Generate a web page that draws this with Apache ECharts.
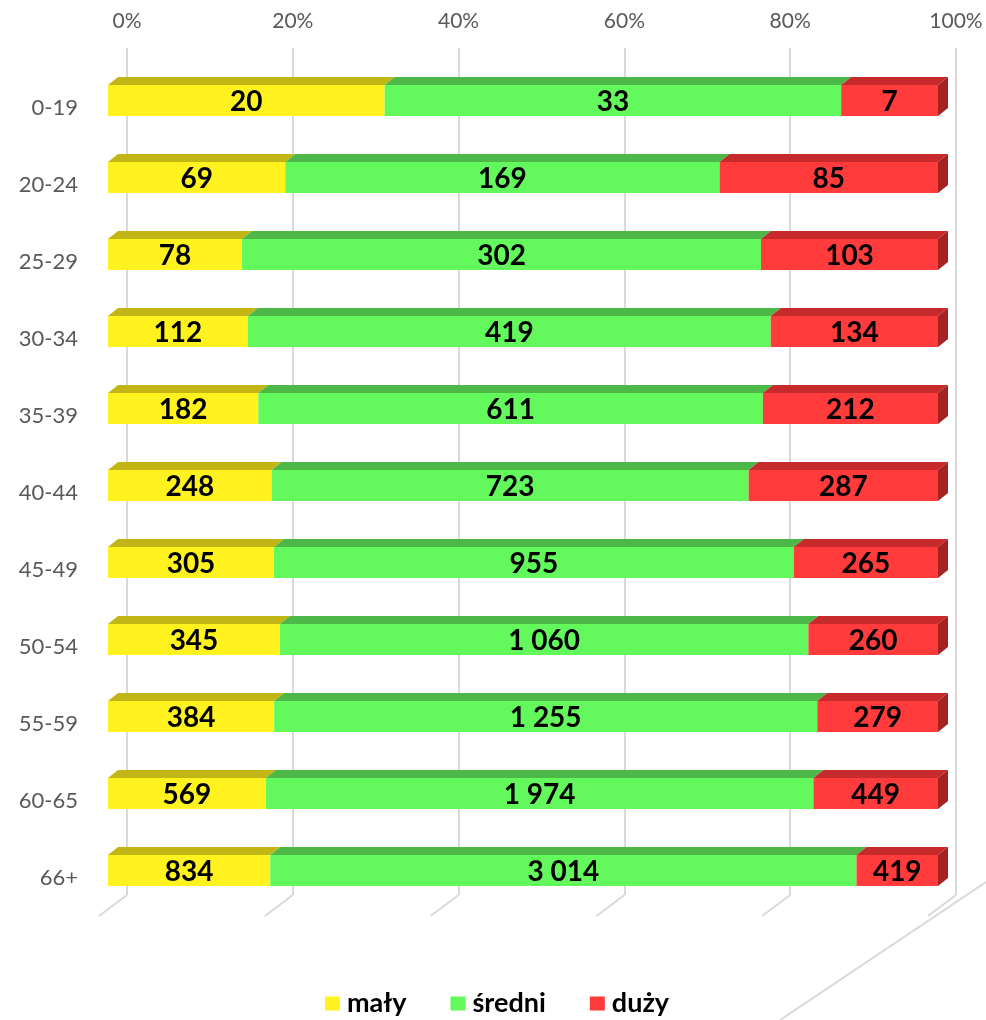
<!DOCTYPE html>
<html>
<head>
<meta charset="utf-8">
<script src="https://cdn.jsdelivr.net/npm/echarts@6/dist/echarts.min.js"></script>
<style>
html,body{margin:0;padding:0;background:#fff;}
#chart{width:986px;height:1020px;}
</style>
</head>
<body>
<div id="chart"></div>
<script>
const categories = ['0-19','20-24','25-29','30-34','35-39','40-44','45-49','50-54','55-59','60-65','66+'];
const maly   = [20, 69, 78, 112, 182, 248, 305, 345, 384, 569, 834];
const sredni = [33, 169, 302, 419, 611, 723, 955, 1060, 1255, 1974, 3014];
const duzy   = [7, 85, 103, 134, 212, 287, 265, 260, 279, 449, 419];
const tickValues = [0, 20, 40, 60, 80, 100];
const seriesNames = ['mały', 'średni', 'duży'];

const FRONT = ['#FFF21F', '#63F95D', '#FF3B3B'];
const TOP   = ['#C2B616', '#4DB848', '#C72A2A'];
const SIDE  = '#A52222';
const DX = 10, DY = 8, BAR_H = 31;

function fmt(v) {
  return String(v).replace(/\B(?=(\d{3})+(?!\d))/g, ' ');
}

const raws = [maly, sredni, duzy];
const totals = categories.map((c, i) => maly[i] + sredni[i] + duzy[i]);
const stacked = raws.map(() => []);
categories.forEach((c, i) => {
  let acc = 0;
  raws.forEach((arr, k) => {
    const s = acc / totals[i] * 100;
    acc += arr[i];
    const e = acc / totals[i] * 100;
    stacked[k].push([i, s, e, arr[i]]);
  });
});

function makeRender(k) {
  return function (params, api) {
    const cat = api.value(0), s = api.value(1), e = api.value(2), raw = api.value(3);
    const p0 = api.coord([s, cat]);
    const p1 = api.coord([e, cat]);
    const x0 = p0[0], x1 = p1[0];
    const yTop = p0[1] - BAR_H / 2;
    const yBot = yTop + BAR_H;
    const children = [
      { type: 'polygon', shape: { points: [[x0, yTop], [x1, yTop], [x1 + DX, yTop - DY], [x0 + DX, yTop - DY]] }, style: { fill: TOP[k] } },
      { type: 'rect', shape: { x: x0, y: yTop, width: x1 - x0, height: BAR_H }, style: { fill: FRONT[k] } }
    ];
    if (k === 2) {
      children.push({ type: 'polygon', shape: { points: [[x1, yTop], [x1 + DX, yTop - DY], [x1 + DX, yBot - DY], [x1, yBot]] }, style: { fill: SIDE } });
    }
    children.push({
      type: 'text', x: (x0 + x1) / 2, y: p0[1] + 1,
      style: { text: fmt(raw), font: 'bold 28px Lato', fill: '#000', align: 'center', verticalAlign: 'middle' }
    });
    return { type: 'group', children: children };
  };
}

const chart = echarts.init(document.getElementById('chart'), null, { renderer: 'canvas' });

const series = [
  {
    type: 'custom', name: '_floor', xAxisIndex: 1, yAxisIndex: 1, silent: true, z: 1,
    data: tickValues.map(v => [v, 0]),
    renderItem: function (params, api) {
      const p = api.coord([api.value(0), 0]);
      return { type: 'line', shape: { x1: p[0], y1: p[1], x2: p[0] - 28, y2: p[1] + 21 }, style: { stroke: '#D9D9D9', lineWidth: 2 } };
    },
    clip: false
  }
];
raws.forEach((arr, k) => {
  series.push({
    type: 'custom', name: seriesNames[k], xAxisIndex: 0, yAxisIndex: 0, z: 5,
    itemStyle: { color: FRONT[k] },
    data: stacked[k],
    encode: { x: [1, 2], y: 0 },
    renderItem: makeRender(k),
    clip: false
  });
});

chart.setOption({
  animation: false,
  backgroundColor: '#fff',
  grid: [
    { left: 108, right: 48, top: 62, bottom: 111 },
    { left: 127, right: 30, top: 48, bottom: 125 }
  ],
  xAxis: [
    { type: 'value', gridIndex: 0, min: 0, max: 100, show: false },
    {
      type: 'value', gridIndex: 1, min: 0, max: 100, interval: 20, position: 'top',
      axisLine: { show: false }, axisTick: { show: false },
      axisLabel: { formatter: '{value}%', color: '#595959', fontSize: 21, fontFamily: 'Lato', margin: 16 },
      splitLine: { show: true, lineStyle: { color: '#D9D9D9', width: 2 } }
    }
  ],
  yAxis: [
    {
      type: 'category', gridIndex: 0, data: categories, inverse: true,
      axisLine: { show: false }, axisTick: { show: false }, splitLine: { show: false },
      axisLabel: { color: '#595959', fontSize: 22, fontFamily: 'Lato', margin: 30, verticalAlign: 'top', lineHeight: 14 }
    },
    { type: 'value', gridIndex: 1, min: 0, max: 1, show: false }
  ],
  legend: {
    data: seriesNames,
    left: 320, bottom: -2,
    icon: 'rect', itemWidth: 15, itemHeight: 14, itemGap: 44,
    textStyle: { fontFamily: 'Lato', fontWeight: 'bold', fontSize: 27, color: '#000', padding: [0, 0, 0, 2] }
  },
  graphic: [
    { type: 'line', silent: true, shape: { x1: 986, y1: 882, x2: 780, y2: 1020 }, style: { stroke: '#D9D9D9', lineWidth: 2 }, z: 0 }
  ],
  series: series
});
</script>
</body>
</html>
